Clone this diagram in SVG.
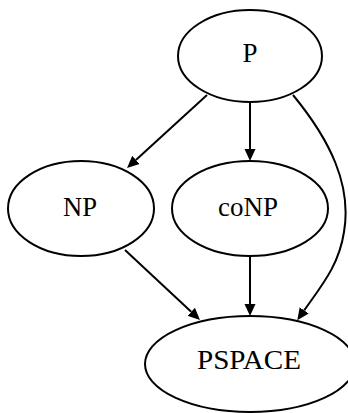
<svg xmlns="http://www.w3.org/2000/svg" width="348" height="413" viewBox="0 0 348 413">
<style>
.node ellipse{fill:#fff;stroke:#000;stroke-width:2}
.node text{font-family:"Liberation Serif","DejaVu Serif",serif;font-size:27px;text-anchor:middle;fill:#000}
.edge{fill:none;stroke:#000;stroke-width:2;marker-end:url(#arr)}
</style>
<defs>
<marker id="arr" markerUnits="userSpaceOnUse" markerWidth="13" markerHeight="12" refX="0" refY="5.5" orient="auto" viewBox="0 0 13 11">
<path d="M0,0 L12,5.5 L0,11 z" fill="#000"/>
</marker>
</defs>
<g id="connectors">
<path class="edge" d="M207,95 L135.9,159.9"/>
<path class="edge" d="M250,102 L250,149"/>
<path class="edge" d="M293,95 C330,140 352,185 344,232 C339,265 322,285 304.2,310.4"/>
<path class="edge" d="M125,250 L191.2,311.8"/>
<path class="edge" d="M250,256 L250,304"/>
</g>
<g id="P" class="node"><ellipse cx="250" cy="56" rx="72" ry="46"/><text x="250" y="62" textLength="15" lengthAdjust="spacingAndGlyphs">P</text></g>
<g id="NP" class="node"><ellipse cx="81" cy="208.5" rx="73" ry="47.5"/><text x="80" y="216" textLength="34" lengthAdjust="spacingAndGlyphs">NP</text></g>
<g id="coNP" class="node"><ellipse cx="250" cy="208.5" rx="78" ry="47.5"/><text x="248" y="216" textLength="60" lengthAdjust="spacingAndGlyphs">coNP</text></g>
<g id="PSPACE" class="node"><ellipse cx="250" cy="364" rx="105" ry="48"/><text x="249" y="369" textLength="104" lengthAdjust="spacingAndGlyphs">PSPACE</text></g>
</svg>
